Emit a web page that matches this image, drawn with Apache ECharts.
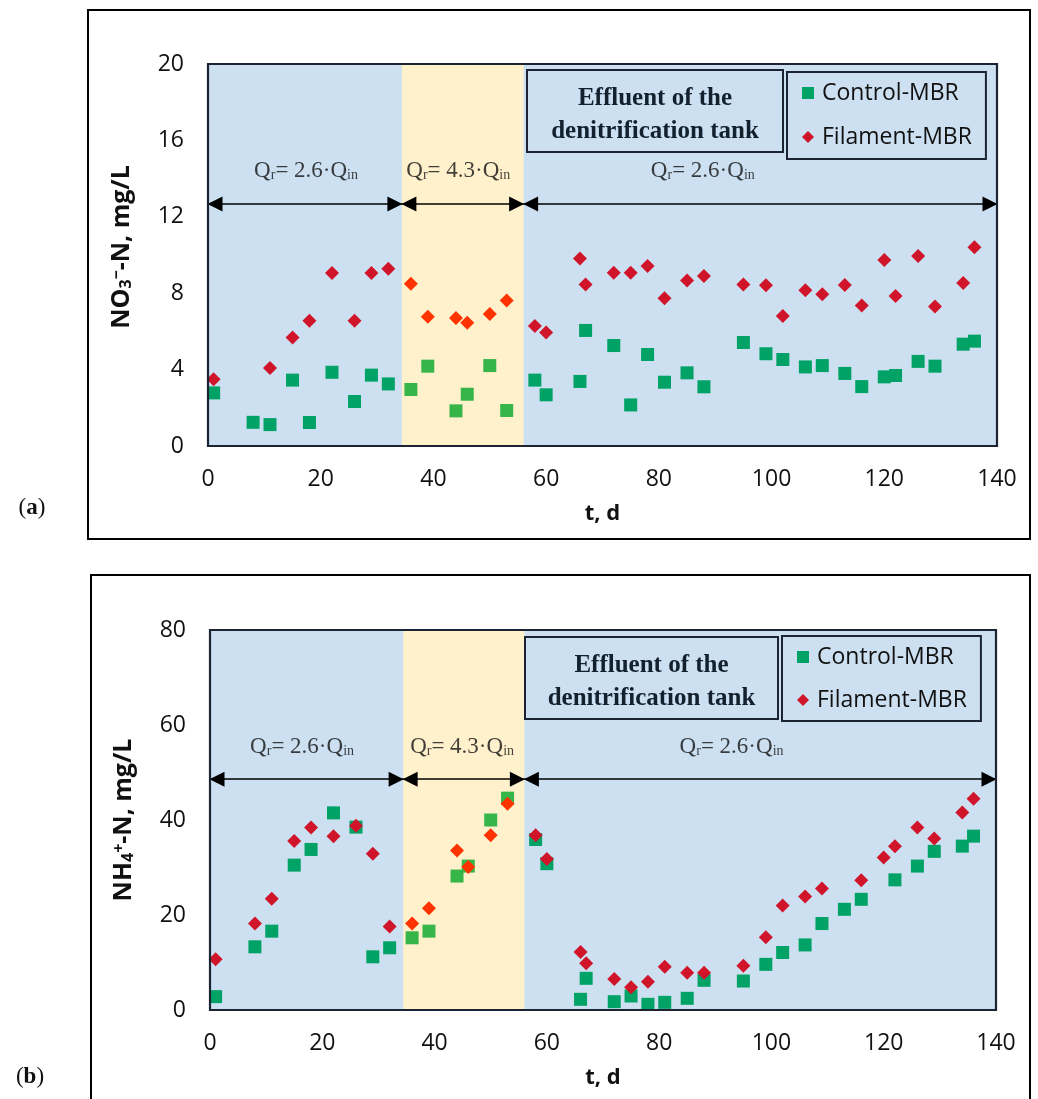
<!DOCTYPE html>
<html><head><meta charset="utf-8">
<script src="https://cdn.jsdelivr.net/npm/echarts@6/dist/echarts.min.js"></script>
<style>html,body{margin:0;padding:0;background:#fff}#c{width:1038px;height:1099px}</style>
</head><body><div id="c"></div><script>
// ---------------- DATA ----------------
const days = [1, 8, 11, 15, 18, 22, 26, 29, 32, 36, 39, 44, 46, 50, 53, 58, 60, 66, 67, 72, 75, 78, 81, 85, 88, 95, 99, 102, 106, 109, 113, 116, 120, 122, 126, 129, 134, 136];
const controlNO3 = [2.78, 1.24, 1.12, 3.45, 1.23, 3.86, 2.33, 3.71, 3.25, 2.96, 4.18, 1.84, 2.71, 4.21, 1.86, 3.45, 2.68, 3.38, 6.05, 5.26, 2.15, 4.79, 3.34, 3.83, 3.10, 5.42, 4.83, 4.53, 4.14, 4.21, 3.80, 3.11, 3.62, 3.69, 4.43, 4.18, 5.33, 5.49];
const filamentNO3 = [3.50, null, 4.09, 5.68, 6.56, 9.06, 6.56, 9.06, 9.28, 8.50, 6.77, 6.70, 6.45, 6.91, 7.62, 6.28, 5.94, 9.82, 8.46, 9.07, 9.07, 9.42, 7.73, 8.67, 8.90, 8.46, 8.41, 6.80, 8.16, 7.94, 8.43, 7.36, 9.74, 7.85, 9.95, 7.31, 8.53, 10.40];
const controlNH4 = [2.81, 13.3, 16.6, 30.5, 33.8, 41.5, 38.5, 11.2, 13.1, 15.2, 16.6, 28.2, 30.3, 40.0, 44.6, 35.9, 30.8, 2.25, 6.67, 1.75, 2.95, 1.19, 1.61, 2.46, 6.25, 6.10, 9.61, 12.1, 13.7, 18.2, 21.2, 23.3, null, 27.4, 30.3, 33.4, 34.5, 36.6];
const filamentNH4 = [10.67, 18.2, 23.4, 35.6, 38.4, 36.6, 38.8, 32.9, 17.6, 18.2, 21.4, 33.6, 30.1, 36.8, 43.4, 36.8, 31.8, 12.2, 9.82, 6.53, 4.77, 5.96, 9.12, 7.86, 7.86, 9.33, 15.3, 22.0, 23.9, 25.6, null, 27.3, 32.1, 34.5, 38.4, 36.1, 41.6, 44.5];
const xRange = [0, 140, 20];
const yRangeA = [0, 20, 4];
const yRangeB = [0, 80, 20];
const periodBreaks = [34.4, 56];
const phaseRatios = ['2.6', '4.3', '2.6'];
const seriesNames = ['Control-MBR', 'Filament-MBR'];

// ---------------- STYLE ----------------
const BLUE = '#CCE0F1', YELLOW = '#FFF1CC';
const GREEN = '#00A265', GREEN2 = '#36B548';
const RED = '#D0152B', RED2 = '#FF3300';
const DARK = '#1c2433';
const SANS = '"Open Sans", "Noto Sans", sans-serif';
const SERIF = '"Liberation Serif", serif';

const grids = [
  {left: 208, top: 64, width: 789, height: 382},
  {left: 210, top: 630, width: 786, height: 380}
];

function pairs(arr) { return days.map((d, i) => [d, arr[i]]).filter(p => p[1] != null); }
function inPhase2(x) { return x > periodBreaks[0] && x < periodBreaks[1]; }
function colorFn(base, alt) { return p => inPhase2(p.value[0]) ? alt : base; }

function qLabel(r) { return '{q|Q}{s|r}{q|= ' + r + '·Q}{s|in}'; }
const qRich = {
  q: {fontFamily: SERIF, fontSize: 23, color: '#111', verticalAlign: 'bottom'},
  s: {fontFamily: SERIF, fontSize: 14, color: '#111', verticalAlign: 'bottom'}
};

function panelSeries(gi, ctrl, fil, arrowLevel, labelY, labelX) {
  const bounds = [xRange[0], periodBreaks[0], periodBreaks[1], xRange[1]];
  const arrows = [];
  for (let k = 0; k < 3; k++) arrows.push([{coord: [bounds[k], arrowLevel]}, {coord: [bounds[k + 1], arrowLevel]}]);
  return [
    {
      type: 'scatter', xAxisIndex: gi, yAxisIndex: gi, z: 1, silent: true, data: [],
      markArea: {silent: true, itemStyle: {color: YELLOW}, data: [[{xAxis: periodBreaks[0]}, {xAxis: periodBreaks[1]}]]},
      markLine: {
        silent: true, symbol: ['triangle', 'triangle'], symbolSize: [15, 15], symbolOffset: [[0, 7], [0, 7]],
        lineStyle: {color: '#000', width: 1.6, type: 'solid'}, label: {show: false},
        data: arrows
      }
    },
    {
      type: 'scatter', xAxisIndex: gi, yAxisIndex: gi, z: 2, silent: true, symbolSize: 0,
      data: labelX.map((x, k) => ({value: [x, labelY], label: {formatter: qLabel(phaseRatios[k])}})),
      label: {show: true, position: 'inside', rich: qRich}
    },
    {
      name: seriesNames[0], type: 'scatter', xAxisIndex: gi, yAxisIndex: gi, z: 4,
      symbol: 'rect', symbolSize: 13, data: pairs(ctrl),
      itemStyle: {color: colorFn(GREEN, GREEN2), opacity: 1}
    },
    {
      name: seriesNames[1], type: 'scatter', xAxisIndex: gi, yAxisIndex: gi, z: 5,
      symbol: 'diamond', symbolSize: 14, data: pairs(fil),
      itemStyle: {color: colorFn(RED, RED2), opacity: 1}
    }
  ];
}

function xAxis(gi) {
  return {
    type: 'value', gridIndex: gi, min: xRange[0], max: xRange[1], interval: xRange[2],
    axisLine: {show: false}, axisTick: {show: false}, splitLine: {show: false},
    axisLabel: {fontFamily: SANS, fontSize: 23, color: '#111', margin: 22, showMinLabel: true, showMaxLabel: true},
    name: 't, d', nameLocation: 'middle', nameGap: 57,
    nameTextStyle: {fontFamily: SANS, fontSize: 22, fontWeight: 'bold', color: '#111'}
  };
}
function yAxis(gi, rng, nameRich, shift) {
  return {
    type: 'value', gridIndex: gi, min: rng[0], max: rng[1], interval: rng[2],
    axisLine: {show: false}, axisTick: {show: false}, splitLine: {show: false},
    axisLabel: {fontFamily: SANS, fontSize: 23, color: '#111', margin: 24, showMinLabel: true, showMaxLabel: true},
    name: nameRich, nameLocation: 'middle', nameGap: 74,
    nameTextStyle: {
      fontFamily: SANS, fontSize: 25, fontWeight: 'bold', color: '#111',
      padding: [0, 0, 0, shift],
      rich: {
        b: {fontFamily: SANS, fontSize: 25, fontWeight: 'bold', color: '#111', verticalAlign: 'bottom'},
        sub: {fontFamily: SANS, fontSize: 16, fontWeight: 'bold', color: '#111', verticalAlign: 'bottom'},
        sup: {fontFamily: SANS, fontSize: 16, fontWeight: 'bold', color: '#111', verticalAlign: 'top'}
      }
    }
  };
}

function legendFor(box, gap, pad) {
  return {
    data: seriesNames.map((n, k) => ({
      name: n,
      icon: k === 0 ? 'path://M0,0L10,0L10,10L0,10Z' : 'path://M5,0L10,5L5,10L0,5Z',
      itemStyle: {color: k === 0 ? GREEN : RED}
    })),
    orient: 'vertical', left: box[0], top: box[1], itemWidth: 18, itemHeight: 12, itemGap: gap,
    padding: pad, borderColor: DARK, borderWidth: 2, backgroundColor: BLUE, borderRadius: 0,
    selectedMode: false,
    textStyle: {fontFamily: SANS, fontSize: 23, color: '#111', lineHeight: 24}
  };
}

function frameRect(x, y, w, h, stroke, lw, z) {
  return {type: 'rect', z: z, silent: true, shape: {x: x, y: y, width: w, height: h}, style: {fill: null, stroke: stroke, lineWidth: lw}};
}
function effluentBox(x, y, w, h, dy) {
  return [
    {type: 'rect', z: 50, silent: true, shape: {x: x, y: y, width: w, height: h}, style: {fill: BLUE, stroke: DARK, lineWidth: 2}},
    {type: 'text', z: 51, silent: true, x: x + w / 2, y: y + h / 2 + dy,
     style: {text: 'Effluent of the\ndenitrification tank', font: 'bold 25px ' + SERIF, fill: '#13202e', align: 'center', verticalAlign: 'middle', lineHeight: 33}}
  ];
}
function panelTag(letter, x, y) {
  return {type: 'text', z: 51, silent: true, x: x, y: y,
    style: {text: '({b|' + letter + '})', font: '23px "Liberation Serif", serif', fill: '#111', align: 'center', verticalAlign: 'middle',
      rich: {b: {fontWeight: 'bold', fontSize: 23, fontFamily: SERIF}}}};
}

const option = {
  animation: false,
  grid: grids.map(g => Object.assign({show: true, backgroundColor: BLUE, borderWidth: 0, containLabel: false, outerBoundsMode: 'none'}, g)),
  xAxis: [xAxis(0), xAxis(1)],
  yAxis: [
    yAxis(0, yRangeA, '{b|NO}{sub|3}{sup|−}{b|-N, mg/L}', 16),
    yAxis(1, yRangeB, '{b|NH}{sub|4}{sup|+}{b|-N, mg/L}', 0)
  ],
  legend: [
    legendFor([787, 72], 20, [9, 14, 10, 15]),
    legendFor([782, 636], 19, [9, 14, 9, 15])
  ],
  series: [].concat(
    panelSeries(0, controlNO3, filamentNO3, 12.67, 14.4, [17.4, 44.4, 87.8]),
    panelSeries(1, controlNH4, filamentNH4, 48.6, 55.4, [16.4, 44.9, 92.9])
  ),
  graphic: [].concat(
    [frameRect(88, 10, 942, 529, '#000', 2, 40), frameRect(91, 575, 939, 560, '#000', 2, 40)],
    grids.map(g => frameRect(g.left, g.top, g.width, g.height, DARK, 2.2, 45)),
    effluentBox(527, 70, 256, 82, 4),
    effluentBox(525, 637, 253, 82, 4),
    [panelTag('a', 32, 508), panelTag('b', 30, 1077)]
  )
};

const chart = echarts.init(document.getElementById('c'), null, {renderer: 'canvas'});
chart.setOption(option);
</script></body></html>
